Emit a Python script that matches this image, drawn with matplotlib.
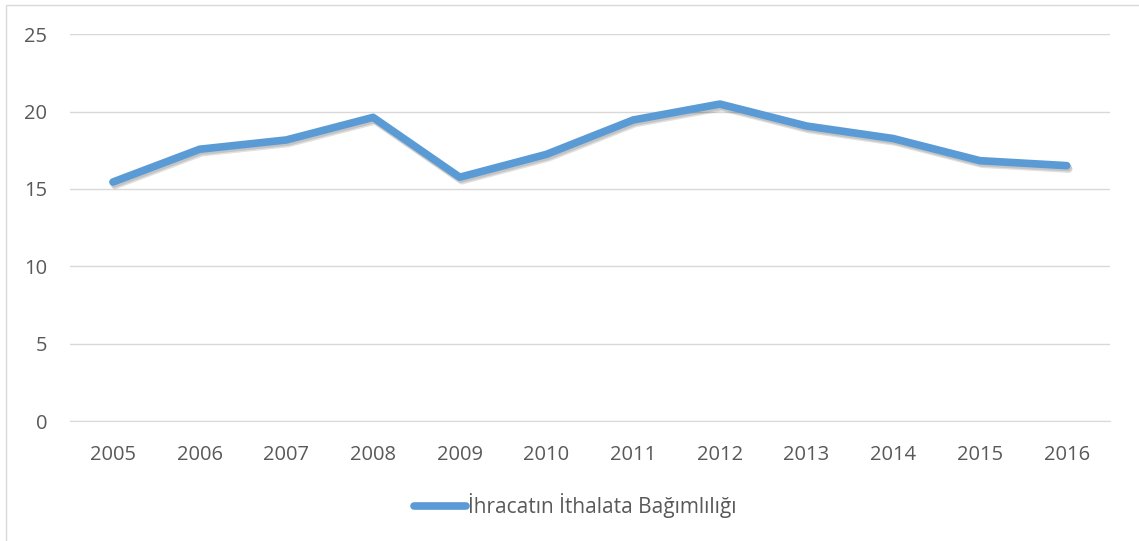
import matplotlib.pyplot as plt
import matplotlib.patheffects as pe
from matplotlib.patches import Rectangle

# Data
years = ["2005", "2006", "2007", "2008", "2009", "2010",
         "2011", "2012", "2013", "2014", "2015", "2016"]
values = [15.45, 17.57, 18.17, 19.63, 15.76, 17.24,
          19.46, 20.49, 19.07, 18.26, 16.83, 16.51]
series_name = "İhracatın İthalata Bağımlılığı"

plt.rcParams['font.family'] = ['Open Sans', 'DejaVu Sans']

fig = plt.figure(figsize=(11.39, 5.41), dpi=100)
ax = fig.add_axes([0.0611, 0.2218, 0.9135, 0.7148])

x = range(len(years))
shadow = [pe.SimpleLineShadow(offset=(1.5, -2.5), shadow_color="black", alpha=0.12),
          pe.SimpleLineShadow(offset=(1, -1.5), shadow_color="black", alpha=0.12),
          pe.Normal()]
ax.plot(x, values, color="#5B9BD5", linewidth=5.5, solid_capstyle="round",
        solid_joinstyle="round", label=series_name, path_effects=shadow)

ax.set_xlim(-0.5, len(years) - 0.5)
ax.set_ylim(0, 25)
ax.set_yticks([0, 5, 10, 15, 20, 25])
ax.set_xticks(list(x))
ax.set_xticklabels(years)
ax.grid(axis="y", color="#D9D9D9", linewidth=1)
ax.set_axisbelow(True)
for s in ["top", "right", "left"]:
    ax.spines[s].set_visible(False)
ax.spines["bottom"].set_color("#D9D9D9")
ax.tick_params(length=0, labelsize=14.5, colors="#595959")
ax.tick_params(axis="y", pad=16)
ax.tick_params(axis="x", pad=17)

leg = fig.legend(loc="center", bbox_to_anchor=(575 / 1139, 1 - 506 / 541),
                 frameon=False, fontsize=15, handlelength=2.5, handletextpad=0.08)
for t in leg.get_texts():
    t.set_color("#595959")
for h in leg.get_lines():
    h.set_path_effects([pe.Normal()])

# outer chart border
fig.patches.append(Rectangle((6 / 1139, -0.1), 1.2, 1 - 5 / 541 + 0.1,
                             transform=fig.transFigure, fill=False,
                             edgecolor="#D9D9D9", linewidth=1))

fig.savefig("out.png", dpi=100)
